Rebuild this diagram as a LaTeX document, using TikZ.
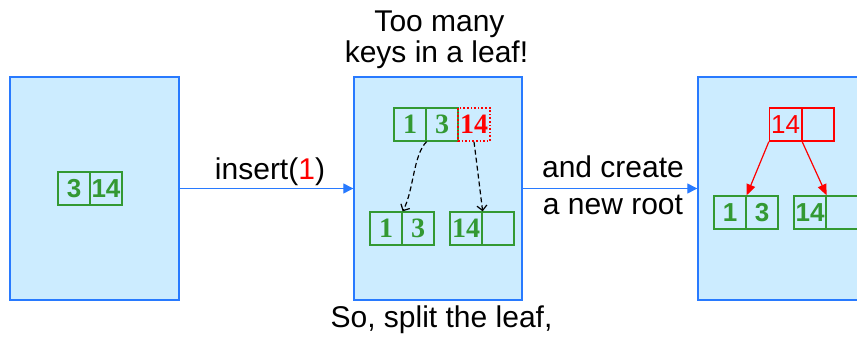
\documentclass[tikz,border=0pt]{standalone}
\usepackage{fontspec}
\setmainfont{Liberation Sans}
\newfontfamily\cellserif{Liberation Serif}
\usetikzlibrary{arrows.meta}
\definecolor{panelfill}{RGB}{204,236,255}
\definecolor{panelline}{RGB}{40,122,255}
\definecolor{keygreen}{RGB}{51,153,51}
\definecolor{keyred}{RGB}{255,0,0}
\begin{document}
\begin{tikzpicture}[x=1pt,y=-1pt,
  panel/.style={draw=panelline, fill=panelfill, line width=1.4pt,
    minimum width=168pt, minimum height=223pt, inner sep=0pt},
  cell/.style={draw=keygreen, line width=1.3pt, minimum width=32pt,
    minimum height=33pt, inner sep=0pt, text=keygreen,
    font=\fontsize{26}{26}\selectfont\bfseries},
  serifcell/.style={cell, font=\fontsize{28}{28}\selectfont\cellserif\bfseries},
  redcell/.style={cell, draw=keyred, text=keyred, font=\fontsize{26}{26}\selectfont},
  label/.style={inner sep=0pt, anchor=base, font=\fontsize{30}{32}\selectfont},
  flow/.style={draw=panelline, line width=1.3pt, -{Triangle[length=10pt,width=10pt]}},
  splitarrow/.style={draw=black, line width=1.2pt, dash pattern=on 5pt off 3pt,
    -{Straight Barb[length=5pt,width=10pt]}},
  childarrow/.style={draw=keyred, line width=1.2pt, -{Triangle[length=11pt,width=9pt]}}]
\useasboundingbox (0,0) rectangle (857,339);
\clip (0,0) rectangle (857,339);
\fill[white] (0,0) rectangle (857,339);

% the three snapshots of the tree
\node[panel, minimum width=169pt] (p1) at (94.5,188.5) {};
\node[panel] (p2) at (438,188.5) {};
\node[panel] (p3) at (782,188.5) {};

% before the insertion: one leaf
\node[cell] (a1) at (74,188.5) {3};
\node[cell] (a2) at (106,188.5) {14};

% overfull leaf and its two halves
\node[serifcell] (t1) at (410,124.5) {1};
\node[serifcell] (t2) at (442,124.5) {3};
\node[serifcell, draw=keyred, line width=1.6pt, dotted, text=keyred] (t3) at (474,124.5) {14};
\node[serifcell] (b1) at (386,228.5) {1};
\node[serifcell] (b2) at (418,228.5) {3};
\node[serifcell] (c1) at (466,228.5) {14};
\node[serifcell] (c2) at (498,228.5) {};

\draw[splitarrow] (t1.south east) .. controls (413,155) and (414,190) .. (b1.north east);
\draw[splitarrow] (t3.south) .. controls (477,165) and (480,190) .. (c1.north east);

% new root above the two leaves
\node[redcell] (r1) at (785.5,124.5) {14};
\node[redcell] (r2) at (818,124.5) {};
\node[cell] (l1) at (730,212.5) {1};
\node[cell] (l2) at (762,212.5) {3};
\node[cell] (m1) at (810,212.5) {14};
\node[cell] (m2) at (842,212.5) {};

\draw[childarrow] (r1.south west) -- (l1.north east);
\draw[childarrow] (r1.south east) -- (m1.north east);

% steps between the snapshots
\draw[flow] (p1.east) -- (p2.west);
\draw[flow] (p2.east) -- (p3.west);

\node[label] (ins) at (270,180) {insert(\textcolor{keyred}{1})};
\node[label] (cr1) at (613,178) {and create};
\node[label] (cr2) at (613,215) {a new root};
\node[label] (tm1) at (439.5,32) {Too many};
\node[label] (tm2) at (436.5,63) {keys in a leaf!};
\node[label] (spl) at (441.5,327) {So, split the leaf,};
\end{tikzpicture}
\end{document}
